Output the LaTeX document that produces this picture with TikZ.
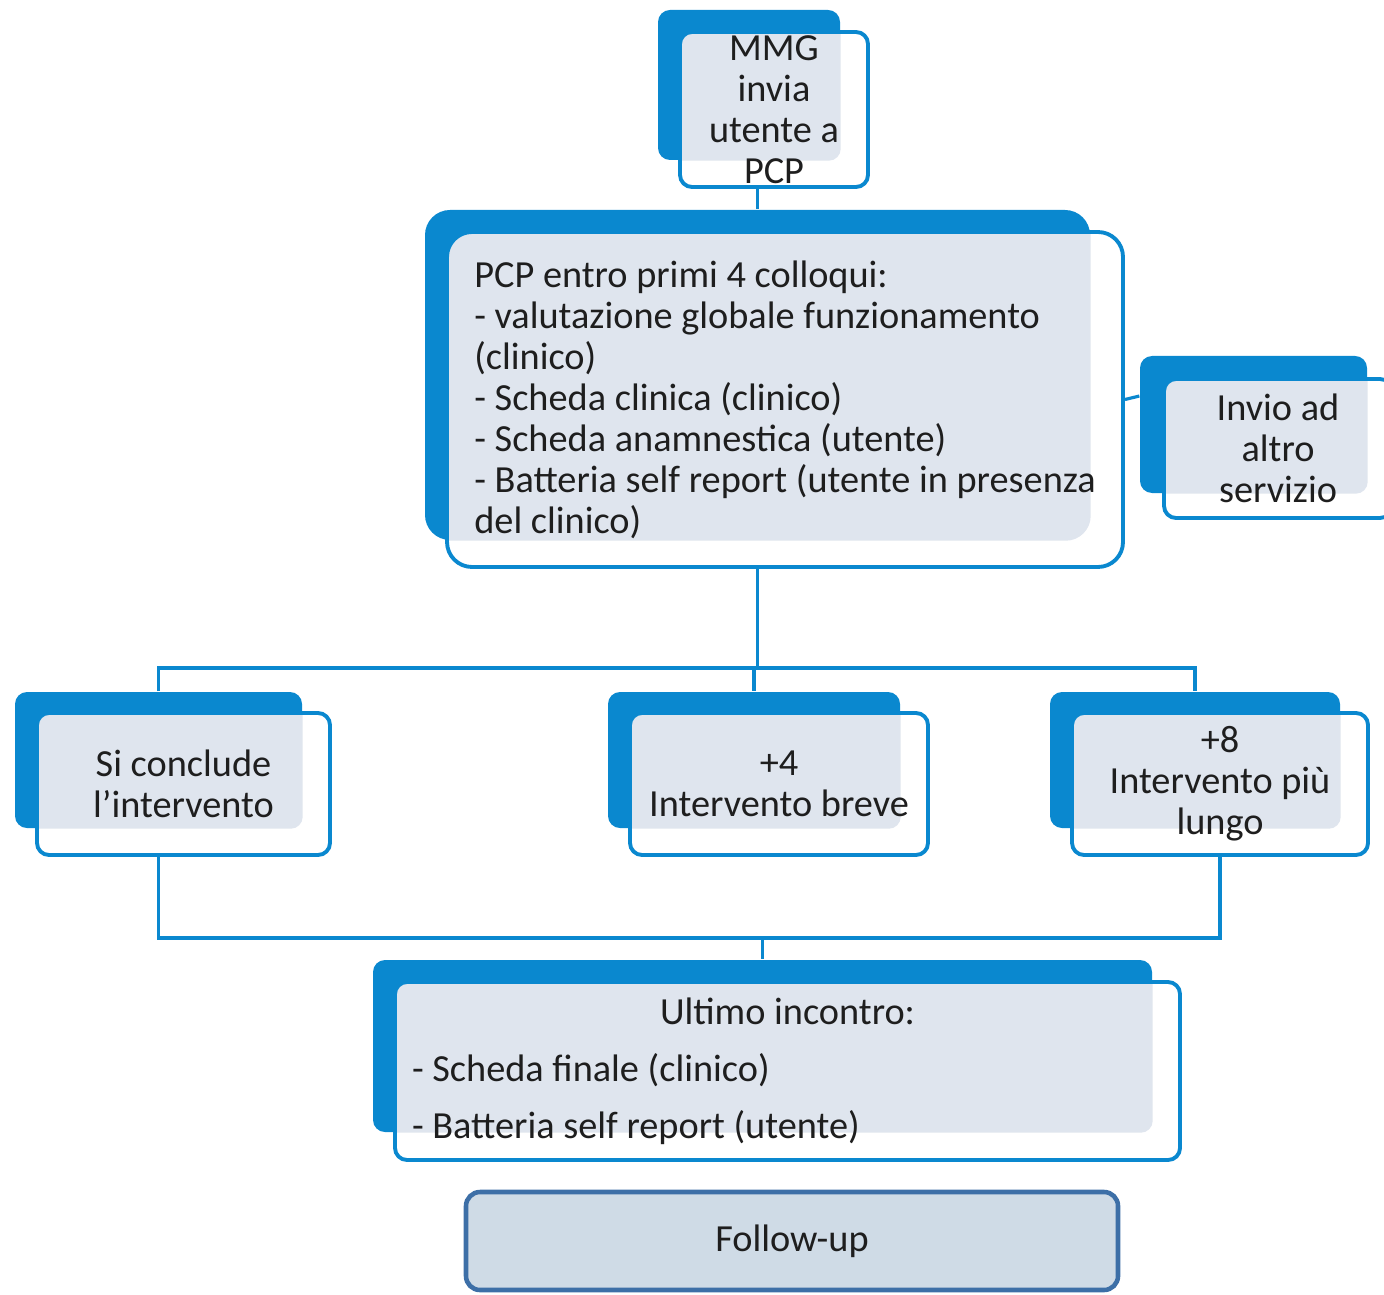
\documentclass[tikz,border=0pt]{standalone}
\usepackage{fontspec}
\setmainfont{Carlito}
\usepackage{xcolor}
\usepackage{tikz}
\usetikzlibrary{positioning}

\definecolor{smartblue}{HTML}{0A88CF}
\definecolor{panelgray}{HTML}{DFE5EE}
\definecolor{followfill}{HTML}{CFDBE6}
\definecolor{followline}{HTML}{3D6FA7}
\definecolor{inktext}{HTML}{1E1E1E}

\begin{document}
\begin{tikzpicture}[backbox/.style={rectangle, fill=smartblue, rounded corners=0.12cm, inner sep=0pt},
                    frontbox/.style={rectangle, draw=smartblue, line width=1.1pt, fill=white, rounded corners=0.12cm, inner sep=0pt,
                                     text=inktext, font=\fontsize{10.9pt}{11.66pt}\selectfont, align=center,
                                     path picture={\fill[panelgray] (#1.south west) rectangle (#1.north east);}},
                    followbox/.style={rectangle, draw=followline, line width=1.3pt, fill=followfill, rounded corners=0.14cm,
                                      text=inktext, font=\fontsize{10.9pt}{11.66pt}\selectfont},
                    link/.style={draw=smartblue, line width=0.9pt},]
            \useasboundingbox (0,0) rectangle (13.84,-12.94);

            %Boxes
            \node[backbox, minimum width=1.82cm, minimum height=1.50cm](mmg_back) at (7.49,-0.85){};
            \node[frontbox=mmg_back, minimum width=1.88cm, minimum height=1.55cm](mmg) at (7.74,-1.095){MMG\\invia\\utente a\\PCP};

            \node[backbox, rounded corners=0.25cm, minimum width=6.65cm, minimum height=3.30cm](pcp_back) at (7.575,-3.75){};
            \node[frontbox=pcp_back, rounded corners=0.25cm, align=left, minimum width=6.76cm, minimum height=3.35cm](pcp) at (7.85,-3.995){PCP entro primi 4 colloqui:\\- valutazione globale funzionamento\\(clinico)\\- Scheda clinica (clinico)\\- Scheda anamnestica (utente)\\- Batteria self report (utente in presenza\\del clinico)};

            \node[backbox, minimum width=2.27cm, minimum height=1.37cm](invio_back) at (12.535,-4.245){};
            \node[frontbox=invio_back, minimum width=2.28cm, minimum height=1.39cm](invio) at (12.78,-4.485){Invio ad\\altro\\servizio};

            \node[backbox, minimum width=2.87cm, minimum height=1.36cm](conclude_back) at (1.585,-7.60){};
            \node[frontbox=conclude_back, minimum width=2.93cm, minimum height=1.42cm](conclude) at (1.835,-7.84){Si conclude\\l’intervento};

            \node[backbox, minimum width=2.92cm, minimum height=1.36cm](breve_back) at (7.54,-7.60){};
            \node[frontbox=breve_back, minimum width=2.98cm, minimum height=1.42cm](breve) at (7.79,-7.84){+4\\Intervento breve};

            \node[backbox, minimum width=2.90cm, minimum height=1.36cm](lungo_back) at (11.95,-7.60){};
            \node[frontbox=lungo_back, minimum width=2.96cm, minimum height=1.42cm](lungo) at (12.20,-7.84){+8\\Intervento più\\lungo};

            \node[backbox, minimum width=7.79cm, minimum height=1.72cm](ultimo_back) at (7.625,-10.46){};
            \node[frontbox=ultimo_back, align=left, minimum width=7.85cm, minimum height=1.78cm](ultimo) at (7.875,-10.71){\makebox[7.51cm]{Ultimo incontro:}\\[0.16cm]- Scheda finale (clinico)\\[0.16cm]- Batteria self report (utente)};

            \node[followbox, minimum width=6.52cm, minimum height=0.98cm](followup) at (7.92,-12.41){Follow-up};

            %Lines
            \coordinate (fork) at (0,-6.68);
            \coordinate (join) at (0,-9.38);
            \draw[link](pcp_back.north |- mmg.south)--(pcp_back.north);
            \draw[link](pcp.east)--(invio_back.166);
            \draw[link](pcp_back.south |- pcp.south)--(pcp_back.south |- fork);
            \draw[link](conclude_back.north)--(conclude_back.north |- fork)--(lungo_back.north |- fork)--(lungo_back.north);
            \draw[link](breve_back.north |- fork)--(breve_back.north);
            \draw[link](conclude_back.south |- conclude.south)--(conclude_back.south |- join)--(lungo.south |- join)--(lungo.south);
            \draw[link](ultimo_back.north |- join)--(ultimo_back.north);

        \end{tikzpicture}
\end{document}
